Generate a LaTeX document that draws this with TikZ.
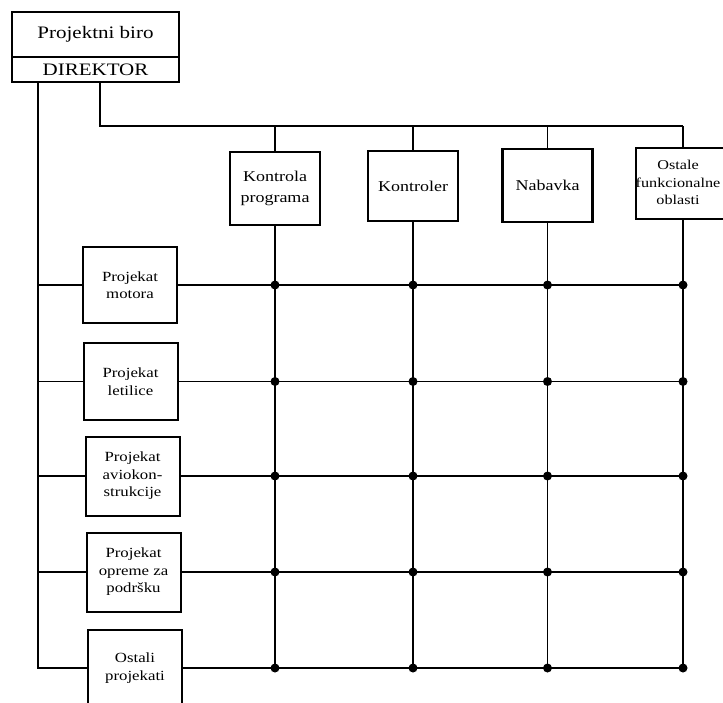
\documentclass[tikz,border=0pt]{standalone}
\usepackage{fontspec}
\setmainfont{Liberation Serif}[FakeStretch=1.2]
\begin{document}
\begin{tikzpicture}[x=1pt,y=-1pt,
  conn/.style={line width=1.3pt},
  topbox/.style={draw,line width=2.4pt,minimum width=167pt,inner sep=0pt,font=\fontsize{17.5}{20}\selectfont},
  colbox/.style={draw,line width=2.4pt,minimum width=90pt,inner sep=0pt,align=center,font=\fontsize{15}{21}\selectfont},
  rowbox/.style={draw,line width=2pt,minimum width=94pt,inner sep=0pt,align=center,font=\fontsize{14}{17.5}\selectfont},
  dot/.style={circle,fill,inner sep=0pt,minimum size=9pt}]
\useasboundingbox (0,0) rectangle (723,702);
% director box
\node[topbox,minimum height=45pt] (biro) at (95.5,34.5) {Projektni biro};
\node[topbox,minimum height=25pt] (dir) at (95.5,69.5) {DIREKTOR};
% functional columns
\node[colbox,minimum height=73pt] (c1) at (275,188.5) {Kontrola\\programa};
\node[colbox,minimum height=70pt] (c2) at (413,186) {Kontroler};
\node[colbox,minimum height=73pt] (c3) at (547.5,185.5) {Nabavka};
\node[colbox,minimum height=71pt,font=\fontsize{13.5}{17.5}\selectfont] (c4) at (683,183.5)
  {\begin{tabular}{@{}c@{\hspace{10pt}}}Ostale\\funkcionalne\\oblasti\end{tabular}};
% project rows
\node[rowbox,minimum height=76pt] (r1) at (130,285) {Projekat\\motora};
\node[rowbox,minimum height=77pt] (r2) at (130.5,381.5) {Projekat\\letilice};
\node[rowbox,minimum height=79pt] (r3) at (132.5,476) {Projekat\\aviokon-\\strukcije};
\node[rowbox,minimum height=79pt] (r4) at (133.5,572) {Projekat\\opreme za\\podršku};
\node[rowbox,minimum height=76pt] (r5) at (135,668) {Ostali\\projekati};
% coordinates
\coordinate (tk) at (38,82);
\coordinate (bs) at (100,126);
\coordinate (be) at (683,126);
% top bus
\draw[conn] (dir.south -| bs) -- (bs) -- (be);
\foreach \c in {c1,c2,c3,c4}{
  \draw[conn] (bs -| \c.north) -- (\c.north);
  \draw[conn] (\c.south) -- (\c.south |- r5.east);
}
% left trunk
\draw[conn] (dir.south -| tk) -- (tk |- r5.west) -- (r5.west);
\foreach \r in {r1,r2,r3,r4}{
  \draw[conn] (tk |- \r.west) -- (\r.west);
}
\foreach \r in {r1,r2,r3,r4,r5}{
  \draw[conn] (\r.east) -- (\r.east -| c4.south);
  \foreach \c in {c1,c2,c3,c4}{
    \node[dot] (d-\r-\c) at (\r.east -| \c.south) {};
  }
}
\end{tikzpicture}
\end{document}
